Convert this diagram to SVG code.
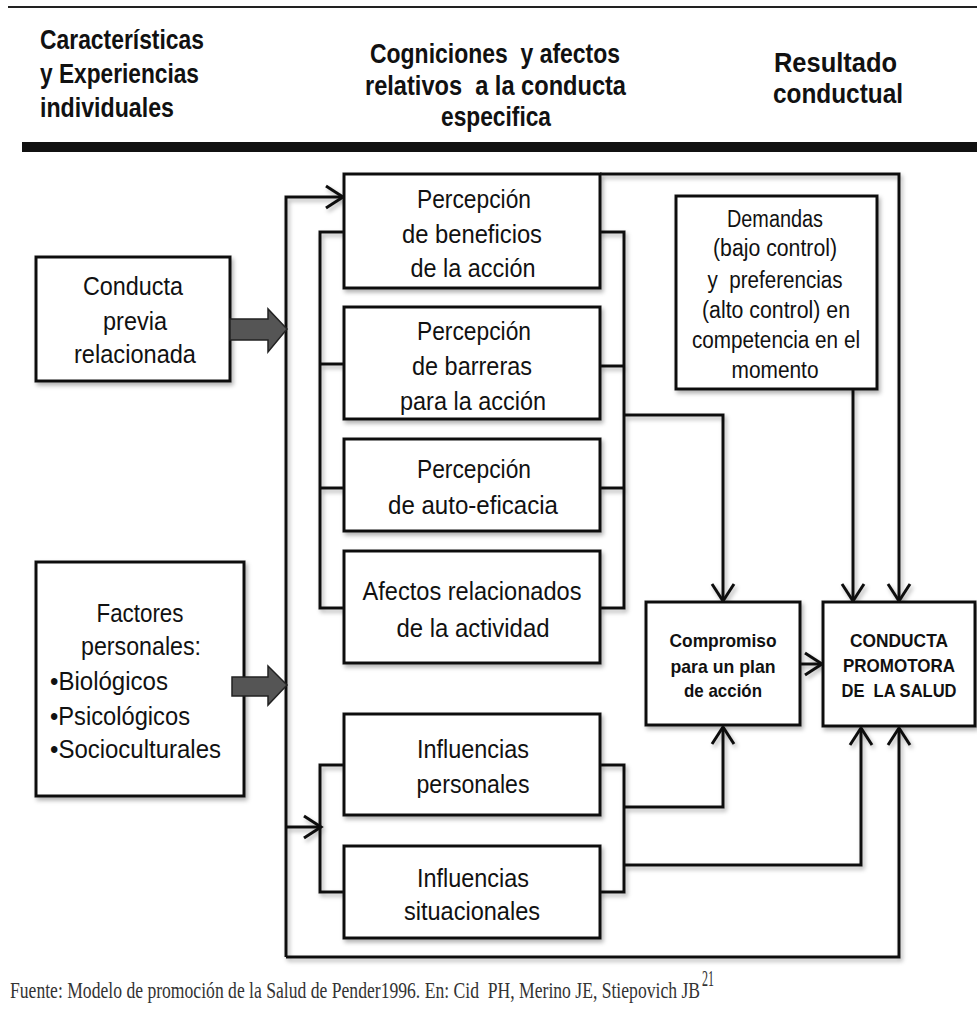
<svg xmlns="http://www.w3.org/2000/svg" width="977" height="1020" viewBox="0 0 977 1020">
<style>
.box{fill:#fff;stroke:#111;stroke-width:3}
.ln{fill:none;stroke:#111;stroke-width:3}
.t{font-family:"Liberation Sans",Arial,sans-serif;font-size:25px;fill:#111;text-anchor:middle}
.tl{text-anchor:start}
.d{font-size:23px}
.b{font-family:"Liberation Sans",Arial,sans-serif;font-size:19px;font-weight:bold;fill:#111;text-anchor:middle}
.h{font-family:"Liberation Sans",Arial,sans-serif;font-size:28px;font-weight:bold;fill:#111}
.f{font-family:"Liberation Serif","Times New Roman",serif;font-size:23px;fill:#333}
.fat{fill:#555;stroke:#222;stroke-width:1.5}
</style>
<defs>
<filter id="sh" x="-10%" y="-10%" width="130%" height="130%">
<feDropShadow dx="2" dy="3" stdDeviation="2" flood-color="#000" flood-opacity="0.3"/>
</filter>
<marker id="ar" markerUnits="userSpaceOnUse" markerWidth="24" markerHeight="26" refX="19" refY="13" orient="auto">
<path d="M2,2 L19,13 L2,24" fill="none" stroke="#111" stroke-width="3"/>
</marker>
</defs>
<rect width="977" height="1020" fill="#fff"/>

<g id="header">
<line x1="8" y1="7" x2="977" y2="7" stroke="#222" stroke-width="2"/>
<text class="h" x="40" y="49" textLength="164" lengthAdjust="spacingAndGlyphs">Características</text>
<text class="h" x="40" y="83" textLength="159" lengthAdjust="spacingAndGlyphs">y Experiencias</text>
<text class="h" x="40" y="117" textLength="134" lengthAdjust="spacingAndGlyphs">individuales</text>
<text class="h" x="370" y="63" textLength="250" lengthAdjust="spacingAndGlyphs" xml:space="preserve">Cogniciones  y afectos</text>
<text class="h" x="365" y="95" textLength="261" lengthAdjust="spacingAndGlyphs" xml:space="preserve">relativos  a la conducta</text>
<text class="h" x="441" y="126" textLength="110" lengthAdjust="spacingAndGlyphs">especifica</text>
<text class="h" x="774" y="72" textLength="123" lengthAdjust="spacingAndGlyphs">Resultado</text>
<text class="h" x="773" y="103" textLength="130" lengthAdjust="spacingAndGlyphs">conductual</text>
<rect x="22" y="142" width="955" height="10" fill="#111"/>
</g>

<g id="connectors" filter="url(#sh)">
<path class="ln" d="M286,957 V197 H343" marker-end="url(#ar)"/>
<path class="ln" d="M286,957 H899 V728" marker-end="url(#ar)"/>
<path class="ln" d="M286,827 H321" marker-end="url(#ar)"/>
<path class="ln" d="M344,232 H320 V608 H344 M320,364 H344 M320,488 H344"/>
<path class="ln" d="M600,232 H624 V608 H600 M600,366 H624 M600,488 H624"/>
<path class="ln" d="M624,415 H723 V601" marker-end="url(#ar)"/>
<path class="ln" d="M600,174 H899 V601" marker-end="url(#ar)"/>
<path class="ln" d="M853,389 V601" marker-end="url(#ar)"/>
<path class="ln" d="M344,765 H320 V892 H344"/>
<path class="ln" d="M600,765 H624 V892 H600"/>
<path class="ln" d="M624,807 H723 V727" marker-end="url(#ar)"/>
<path class="ln" d="M624,865 H861 V728" marker-end="url(#ar)"/>
<path class="ln" d="M800,664 H822" marker-end="url(#ar)"/>
</g>

<g id="conducta-previa">
<rect class="box" x="36" y="257" width="194" height="124" filter="url(#sh)"/>
<text class="t" x="133" y="295" textLength="100" lengthAdjust="spacingAndGlyphs">Conducta</text>
<text class="t" x="135" y="330" textLength="64" lengthAdjust="spacingAndGlyphs">previa</text>
<text class="t" x="135" y="363" textLength="122" lengthAdjust="spacingAndGlyphs">relacionada</text>
</g>
<g id="arrow-previa">
<polygon class="fat" points="230,319 268,319 268,309 287,329 268,352 268,340 230,340"/>
</g>

<g id="factores">
<rect class="box" x="36" y="562" width="208" height="234" filter="url(#sh)"/>
<text class="t" x="140" y="622" textLength="87" lengthAdjust="spacingAndGlyphs">Factores</text>
<text class="t" x="141" y="655" textLength="120" lengthAdjust="spacingAndGlyphs">personales:</text>
<text class="t tl" x="50" y="690" textLength="118" lengthAdjust="spacingAndGlyphs">•Biológicos</text>
<text class="t tl" x="50" y="725" textLength="140" lengthAdjust="spacingAndGlyphs">•Psicológicos</text>
<text class="t tl" x="50" y="758" textLength="171" lengthAdjust="spacingAndGlyphs">•Socioculturales</text>
</g>
<g id="arrow-factores">
<polygon class="fat" points="232,677 268,677 268,666 287,685 268,705 268,696 232,696"/>
</g>

<g id="beneficios">
<rect class="box" x="344" y="174" width="256" height="114" filter="url(#sh)"/>
<text class="t" x="474" y="208" textLength="114" lengthAdjust="spacingAndGlyphs">Percepción</text>
<text class="t" x="472" y="243" textLength="140" lengthAdjust="spacingAndGlyphs">de beneficios</text>
<text class="t" x="473" y="277" textLength="125" lengthAdjust="spacingAndGlyphs">de la acción</text>
</g>

<g id="barreras">
<rect class="box" x="344" y="307" width="256" height="112" filter="url(#sh)"/>
<text class="t" x="474" y="340" textLength="114" lengthAdjust="spacingAndGlyphs">Percepción</text>
<text class="t" x="472" y="375" textLength="120" lengthAdjust="spacingAndGlyphs">de barreras</text>
<text class="t" x="473" y="410" textLength="146" lengthAdjust="spacingAndGlyphs">para la acción</text>
</g>

<g id="autoeficacia">
<rect class="box" x="344" y="439" width="256" height="92" filter="url(#sh)"/>
<text class="t" x="474" y="478" textLength="114" lengthAdjust="spacingAndGlyphs">Percepción</text>
<text class="t" x="473" y="514" textLength="170" lengthAdjust="spacingAndGlyphs">de auto-eficacia</text>
</g>

<g id="afectos">
<rect class="box" x="344" y="551" width="256" height="112" filter="url(#sh)"/>
<text class="t" x="472" y="600" textLength="219" lengthAdjust="spacingAndGlyphs">Afectos relacionados</text>
<text class="t" x="473" y="637" textLength="153" lengthAdjust="spacingAndGlyphs">de la actividad</text>
</g>

<g id="influencias-personales">
<rect class="box" x="344" y="714" width="256" height="101" filter="url(#sh)"/>
<text class="t" x="473" y="758" textLength="112" lengthAdjust="spacingAndGlyphs">Influencias</text>
<text class="t" x="473" y="793" textLength="113" lengthAdjust="spacingAndGlyphs">personales</text>
</g>

<g id="influencias-situacionales">
<rect class="box" x="344" y="846" width="256" height="92" filter="url(#sh)"/>
<text class="t" x="473" y="887" textLength="112" lengthAdjust="spacingAndGlyphs">Influencias</text>
<text class="t" x="472" y="920" textLength="136" lengthAdjust="spacingAndGlyphs">situacionales</text>
</g>

<g id="demandas">
<rect class="box" x="676" y="196" width="201" height="193" filter="url(#sh)"/>
<text class="t d" x="775" y="227" textLength="96" lengthAdjust="spacingAndGlyphs">Demandas</text>
<text class="t d" x="775" y="256" textLength="124" lengthAdjust="spacingAndGlyphs">(bajo control)</text>
<text class="t d" x="775" y="288" textLength="135" lengthAdjust="spacingAndGlyphs" xml:space="preserve">y  preferencias</text>
<text class="t d" x="776" y="318" textLength="148" lengthAdjust="spacingAndGlyphs">(alto control) en</text>
<text class="t d" x="776" y="348" textLength="168" lengthAdjust="spacingAndGlyphs">competencia en el</text>
<text class="t d" x="775" y="378" textLength="87" lengthAdjust="spacingAndGlyphs">momento</text>
</g>

<g id="compromiso">
<rect class="box" x="646" y="602" width="154" height="123" filter="url(#sh)"/>
<text class="b" x="723" y="647" textLength="107" lengthAdjust="spacingAndGlyphs">Compromiso</text>
<text class="b" x="723" y="673" textLength="105" lengthAdjust="spacingAndGlyphs">para un plan</text>
<text class="b" x="723" y="697" textLength="78" lengthAdjust="spacingAndGlyphs">de acción</text>
</g>

<g id="conducta-promotora">
<rect class="box" x="823" y="602" width="152" height="124" filter="url(#sh)"/>
<text class="b" x="899" y="647" textLength="98" lengthAdjust="spacingAndGlyphs">CONDUCTA</text>
<text class="b" x="899" y="672" textLength="112" lengthAdjust="spacingAndGlyphs">PROMOTORA</text>
<text class="b" x="899" y="697" textLength="115" lengthAdjust="spacingAndGlyphs" xml:space="preserve">DE  LA SALUD</text>
</g>

<g id="footer">
<text class="f" x="10" y="998" textLength="690" lengthAdjust="spacingAndGlyphs" xml:space="preserve">Fuente: Modelo de promoción de la Salud de Pender1996. En: Cid  PH, Merino JE, Stiepovich JB</text>
<text class="f" x="702" y="986" font-size="11" textLength="12" lengthAdjust="spacingAndGlyphs">21</text>
</g>
</svg>
